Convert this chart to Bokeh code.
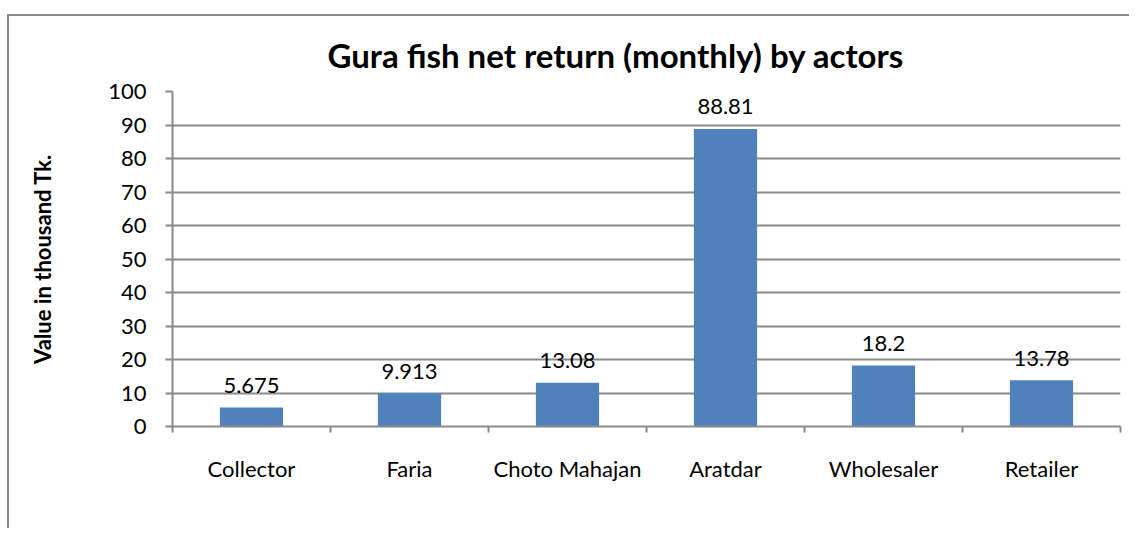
from bokeh.plotting import figure
from bokeh.models import Range1d, FixedTicker, ColumnDataSource, Title
from bokeh.core.properties import value
from bokeh.embed import file_html
from bokeh.resources import INLINE

title_text = "Gura fish net return (monthly) by actors"
categories = ["Collector", "Faria", "Choto Mahajan", "Aratdar", "Wholesaler", "Retailer"]
net_return = [5.675, 9.913, 13.08, 88.81, 18.2, 13.78]
value_labels = ["5.675", "9.913", "13.08", "88.81", "18.2", "13.78"]
y_ticks = [0, 10, 20, 30, 40, 50, 60, 70, 80, 90, 100]

FONT = "Lato"
GRID = "#8a8a8a"
BAR = "#4F81BD"

xs = [i + 0.5 for i in range(len(categories))]
src = ColumnDataSource(dict(x=xs, top=net_return, lab=value_labels))

p = figure(width=1122, height=514, output_backend="svg", toolbar_location=None,
           x_range=Range1d(0, len(categories)), y_range=Range1d(0, 100),
           min_border_left=163, min_border_right=11, min_border_top=75, min_border_bottom=104,
           styles={"border-left": "2px solid #8a8a8a", "border-top": "2px solid #8a8a8a"},
           margin=(14, 0, 0, 7))
p.title = Title(text=title_text, align="left", vertical_align="top",
                text_font=FONT, text_font_size="33px", text_font_style="bold",
                text_line_height=0.6, text_color="black", offset=155, standoff=30)
p.outline_line_color = None
p.background_fill_color = "white"
p.border_fill_color = "white"

p.vbar(x="x", top="top", width=0.4, bottom=0, source=src, fill_color=BAR, line_color=None)
p.text(x="x", y="top", text="lab", source=src, text_align="center", text_baseline="alphabetic",
       y_offset=-22, text_font=value(FONT), text_font_size="22px", text_color="black")

# x axis
p.xaxis.ticker = FixedTicker(ticks=xs, minor_ticks=list(range(len(categories) + 1)))
p.xaxis.major_label_overrides = {x: c for x, c in zip(xs, categories)}
p.xaxis.major_tick_out = 0
p.xaxis.major_tick_in = 0
p.xaxis.minor_tick_out = 6
p.xaxis.minor_tick_in = 0
p.xaxis.minor_tick_line_color = GRID
p.xaxis.minor_tick_line_width = 2
p.xaxis.axis_line_color = GRID
p.xaxis.axis_line_width = 2
p.xaxis.major_label_standoff = 22
p.xaxis.major_label_text_font = FONT
p.xaxis.major_label_text_font_size = "22px"
p.xaxis.major_label_text_color = "black"

# y axis
p.yaxis.ticker = FixedTicker(ticks=y_ticks)
p.yaxis.major_tick_out = 7
p.yaxis.major_tick_in = 0
p.yaxis.major_tick_line_color = GRID
p.yaxis.major_tick_line_width = 2
p.yaxis.minor_tick_line_color = None
p.yaxis.axis_line_color = GRID
p.yaxis.axis_line_width = 2
p.yaxis.major_label_standoff = 19
p.yaxis.major_label_text_font = FONT
p.yaxis.major_label_text_font_size = "22px"
p.yaxis.major_label_text_color = "black"
p.yaxis.axis_label = "Value in thousand Tk."
p.yaxis.axis_label_text_font = FONT
p.yaxis.axis_label_text_font_size = "22px"
p.yaxis.axis_label_text_font_style = "bold"
p.yaxis.axis_label_text_color = "black"
p.yaxis.axis_label_standoff = 49

p.xgrid.grid_line_color = None
p.ygrid.grid_line_color = GRID
p.ygrid.grid_line_width = 2

open("out.html", "w").write(file_html(p, INLINE))
